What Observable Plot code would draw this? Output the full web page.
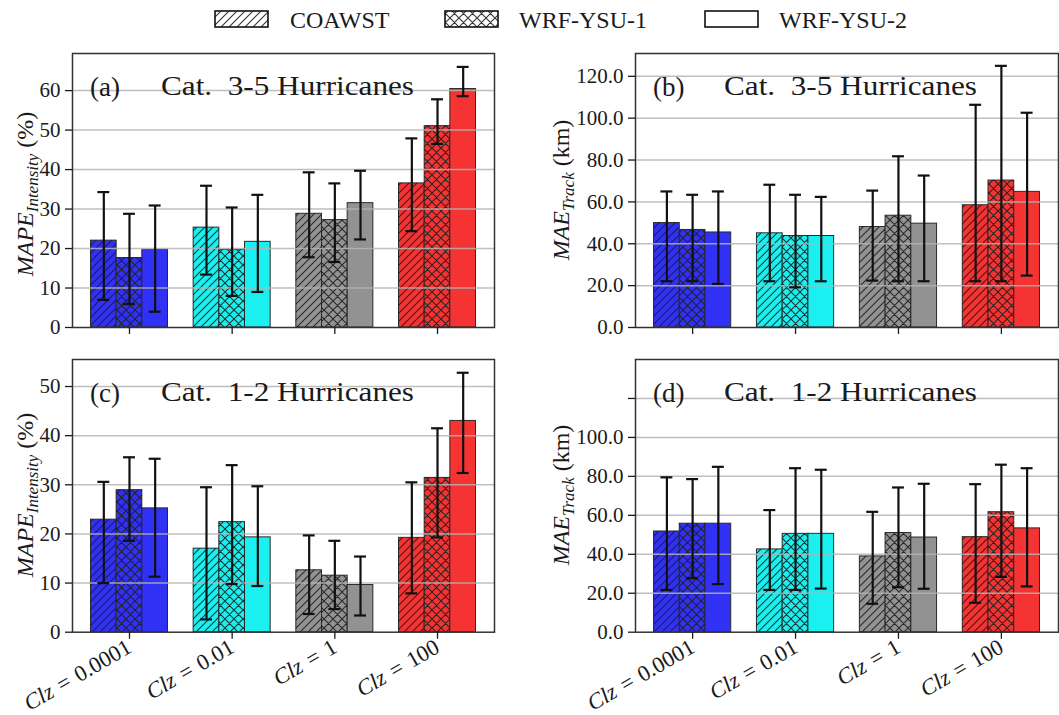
<!DOCTYPE html>
<html><head><meta charset="utf-8">
<script src="https://cdn.jsdelivr.net/npm/d3@7"></script>
<script src="https://cdn.jsdelivr.net/npm/@observablehq/plot@0.6"></script>
<style>
body{margin:0;background:#fff;}
#root{position:relative;width:1059px;height:715px;overflow:hidden;font-family:"Liberation Serif",serif;background:#fff;}
#root svg{position:absolute;}
</style></head><body>
<svg width="0" height="0" style="position:absolute">
  <defs>
    <pattern id="hatch-diag" width="8" height="8" patternUnits="userSpaceOnUse">
      <path d="M-2,2 L2,-2 M0,8 L8,0 M6,10 L10,6" stroke="#1e1e1e" stroke-width="1.1" stroke-opacity="0.9"/>
    </pattern>
    <pattern id="hatch-cross" width="9" height="9" patternUnits="userSpaceOnUse">
      <path d="M-2,2 L2,-2 M0,9 L9,0 M7,11 L11,7 M-2,7 L2,11 M0,0 L9,9 M7,-2 L11,2" stroke="#1e1e1e" stroke-width="1.1" stroke-opacity="0.9"/>
    </pattern>
  </defs>
</svg>
<div id="root"></div>
<script>
// ---------------- data ----------------
const groups = ["0.0001", "0.01", "1", "100"];
const models = ["COAWST", "WRF-YSU-1", "WRF-YSU-2"];
const groupColors = ["#3131f5", "#1af0f0", "#929292", "#f53333"];
const modelHatch = ["url(#hatch-diag)", "url(#hatch-cross)", null];

// (a) MAPE intensity, Cat. 3-5  [group][model]
const aMean = [[22.0, 17.6, 19.7], [25.3, 19.7, 21.7], [28.8, 27.2, 31.5], [36.5, 51.0, 60.4]];
const aLo   = [[7.0, 5.9, 4.0], [13.4, 8.0, 9.0], [17.8, 16.6, 22.3], [24.4, 46.5, 58.6]];
const aHi   = [[34.3, 28.8, 30.9], [35.9, 30.4, 33.6], [39.3, 36.5, 39.7], [47.9, 57.8, 66.0]];

// (b) MAE track, Cat. 3-5
const bMean = [[49.9, 46.6, 45.4], [45.0, 43.7, 43.7], [48.0, 53.4, 49.6], [58.4, 70.2, 64.8]];
const bLo   = [[22.1, 22.1, 20.8], [22.1, 19.2, 22.1], [22.4, 22.1, 22.1], [22.1, 22.1, 24.8]];
const bHi   = [[65.0, 63.4, 65.0], [68.2, 63.4, 62.4], [65.4, 81.8, 72.6], [106.4, 125.0, 102.6]];

// (c) MAPE intensity, Cat. 1-2
const cMean = [[22.9, 28.9, 25.2], [17.0, 22.4, 19.3], [12.6, 11.5, 9.6], [19.2, 31.4, 43.0]];
const cLo   = [[10.0, 18.6, 11.3], [2.6, 9.8, 9.4], [3.7, 4.7, 3.4], [7.9, 19.3, 32.4]];
const cHi   = [[30.6, 35.6, 35.3], [29.5, 34.0, 29.7], [19.7, 18.6, 15.4], [30.5, 41.5, 52.8]];

// (d) MAE track, Cat. 1-2
const dMean = [[51.7, 55.7, 55.7], [42.5, 50.5, 50.5], [38.9, 50.9, 48.6], [48.8, 61.6, 53.3]];
const dLo   = [[21.7, 27.7, 24.7], [21.7, 21.7, 22.4], [14.6, 23.1, 22.3], [15.1, 28.4, 23.5]];
const dHi   = [[79.5, 78.6, 84.9], [62.7, 84.2, 83.4], [61.8, 74.3, 76.2], [76.0, 86.0, 84.2]];

const intTicks = [0, 10, 20, 30, 40, 50, 60];
const trackTicks = [0, 20, 40, 60, 80, 100, 120];

const panels = [
  {id: "a", mean: aMean, lo: aLo, hi: aHi, yMax: 69.4, ticks: intTicks, fmt: d => String(d),
   title: "Cat.\u00a0 3-5 Hurricanes", ylab: ["MAPE", "Intensity", "(%)"],
   left: 0, top: 40, width: 530, height: 300, ml: 72, mr: 36, mt: 13, mb: 13, xLabels: false, ylx: 33, yly: 154},
  {id: "b", mean: bMean, lo: bLo, hi: bHi, yMax: 130.9, ticks: trackTicks, fmt: d => d.toFixed(1),
   title: "Cat.\u00a0 3-5 Hurricanes", ylab: ["MAE", "Track", "(km)"],
   left: 530, top: 40, width: 529, height: 300, ml: 105, mr: 1, mt: 13, mb: 13, xLabels: false, ylx: 39, yly: 150},
  {id: "c", mean: cMean, lo: cLo, hi: cHi, yMax: 55.5, ticks: intTicks.slice(0, 6), fmt: d => String(d),
   title: "Cat.\u00a0 1-2 Hurricanes", ylab: ["MAPE", "Intensity", "(%)"],
   left: 0, top: 340, width: 530, height: 375, ml: 72, mr: 36, mt: 19, mb: 83.3, xLabels: true, ylx: 33, yly: 155},
  {id: "d", mean: dMean, lo: dLo, hi: dHi, yMax: 140, ticks: trackTicks, fmt: d => d === 120 ? "" : d.toFixed(1),
   title: "Cat.\u00a0 1-2 Hurricanes", ylab: ["MAE", "Track", "(km)"],
   left: 530, top: 340, width: 529, height: 375, ml: 105, mr: 1, mt: 19, mb: 83.3, xLabels: true, ylx: 39, yly: 155}
];

function rowsOf(mean, lo, hi) {
  const rows = [];
  groups.forEach((g, gi) => models.forEach((m, k) => {
    const cx = gi + (k - 1) * 0.25;
    rows.push({gi, k, cx, x1: cx - 0.125, x2: cx + 0.125,
      v: mean[gi][k], lo: lo[gi][k], hi: hi[gi][k], color: groupColors[gi]});
  }));
  return rows;
}

const root = document.getElementById("root");
const FONT = '"Liberation Serif", "Times New Roman", serif';

// ---------------- legend ----------------
{
  const lg = d3.select(root).append("svg")
    .attr("width", 1059).attr("height", 40)
    .style("left", "0px").style("top", "0px");
  const boxX = [215, 445, 705], textX = [290, 519, 779];
  models.forEach((m, k) => {
    lg.append("rect").attr("x", boxX[k]).attr("y", 11).attr("width", 53).attr("height", 16)
      .attr("fill", "#fff").attr("stroke", "none");
    if (modelHatch[k]) lg.append("rect").attr("x", boxX[k]).attr("y", 11).attr("width", 53).attr("height", 16)
      .attr("fill", modelHatch[k]);
    lg.append("rect").attr("x", boxX[k]).attr("y", 11).attr("width", 53).attr("height", 16)
      .attr("fill", "none").attr("stroke", "#111").attr("stroke-width", 1.6);
    lg.append("text").attr("x", textX[k]).attr("y", 28).attr("font-family", FONT)
      .attr("text-anchor", "start").attr("font-size", 24).attr("fill", "#1a1a1a").text(m);
  });
}

// ---------------- panels ----------------
for (const p of panels) {
  const rows = rowsOf(p.mean, p.lo, p.hi);
  const grid = p.ticks.filter(t => t > 0);
  const capHalf = 0.058;
  const svg = Plot.plot({
    width: p.width, height: p.height,
    marginLeft: p.ml, marginRight: p.mr, marginTop: p.mt, marginBottom: p.mb,
    style: {fontFamily: FONT, fontSize: "21px", color: "#1a1a1a", background: "transparent", overflow: "visible"},
    x: {type: "linear", domain: [-0.555, 3.555]},
    y: {domain: [0, p.yMax]},
    color: {type: "identity"},
    marks: [
      Plot.rectY(rows, {x1: "x1", x2: "x2", y1: 0, y2: "v", fill: "color", stroke: "#2a2a2a", strokeWidth: 1, inset: 0}),
      Plot.rectY(rows.filter(d => d.k === 0), {x1: "x1", x2: "x2", y1: 0, y2: "v", fill: modelHatch[0], inset: 0}),
      Plot.rectY(rows.filter(d => d.k === 1), {x1: "x1", x2: "x2", y1: 0, y2: "v", fill: modelHatch[1], inset: 0}),
      Plot.ruleY(grid, {stroke: "#b4b4b4", strokeWidth: 1.5, strokeOpacity: 0.85}),
      Plot.ruleX(rows, {x: "cx", y1: "lo", y2: "hi", stroke: "#111", strokeWidth: 2.2}),
      Plot.ruleY(rows, {y: "lo", x1: d => d.cx - capHalf, x2: d => d.cx + capHalf, stroke: "#111", strokeWidth: 2.2}),
      Plot.ruleY(rows, {y: "hi", x1: d => d.cx - capHalf, x2: d => d.cx + capHalf, stroke: "#111", strokeWidth: 2.2}),
      Plot.frame({stroke: "#333", strokeWidth: 1.5}),
      Plot.axisY({ticks: p.ticks, tickFormat: p.fmt, tickSize: 7, tickPadding: 5, label: null, fontSize: 21, strokeWidth: 1.3}),
      Plot.axisX({ticks: [0, 1, 2, 3], tickFormat: i => p.xLabels ? groups[i] : "", tickSize: 7,
        tickPadding: 6, tickRotate: p.xLabels ? -30 : 0, label: null, fontSize: 22.5, strokeWidth: 1.3})
    ]
  });
  svg.style.left = p.left + "px";
  svg.style.top = p.top + "px";
  svg.style.maxWidth = "none";
  root.appendChild(svg);
  const s = d3.select(svg);

  // italic "Clz" in x tick labels
  if (p.xLabels) {
    s.selectAll('g[aria-label="x-axis tick label"] text').each(function () {
      const t = d3.select(this);
      const val = t.text();
      t.text("");
      t.append("tspan").attr("font-style", "italic").text("Clz");
      t.append("tspan").attr("font-style", "normal").text("\u2004=\u2004" + val);
    });
  }

  // panel title
  s.append("text").attr("x", p.ml + 18).attr("y", p.mt + 43).attr("font-family", FONT)
    .attr("text-anchor", "start").attr("font-size", 27).attr("fill", "#1a1a1a").text(`(${p.id})`);
  s.append("text").attr("x", p.ml + 89).attr("y", p.mt + 42).attr("font-family", FONT)
    .attr("text-anchor", "start").attr("font-size", 27).attr("fill", "#1a1a1a")
    .attr("textLength", 253).attr("lengthAdjust", "spacingAndGlyphs").text(p.title);

  // y label with subscript
  const yl = s.append("text").attr("transform", `translate(${p.ylx},${p.yly}) rotate(-90)`)
    .attr("text-anchor", "middle").attr("font-family", FONT).attr("fill", "#1a1a1a");
  yl.append("tspan").attr("font-style", "italic").attr("font-size", 24).text(p.ylab[0]);
  yl.append("tspan").attr("font-style", "italic").attr("font-size", 17).attr("dy", 5).text(p.ylab[1]);
  yl.append("tspan").attr("font-size", 24).attr("dy", -5).text("\u00a0" + p.ylab[2]);
}
</script>
</body></html>
